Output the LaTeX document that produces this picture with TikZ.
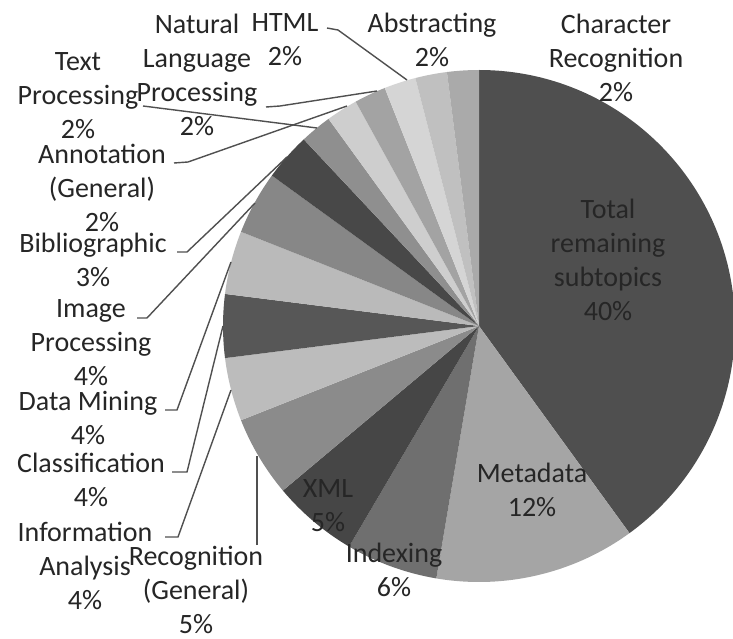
\documentclass[tikz,border=0pt]{standalone}
\usepackage{fontspec}
\setmainfont{Carlito}
\definecolor{txt}{HTML}{262626}
\definecolor{leadc}{HTML}{505050}
\definecolor{sTotal}{HTML}{4F4F4F}
\definecolor{sMeta}{HTML}{A5A5A5}
\definecolor{sIndex}{HTML}{6F6F6F}
\definecolor{sXML}{HTML}{464646}
\definecolor{sRecog}{HTML}{8B8B8B}
\definecolor{sInfo}{HTML}{BCBCBC}
\definecolor{sClass}{HTML}{575757}
\definecolor{sData}{HTML}{BABABA}
\definecolor{sImage}{HTML}{878787}
\definecolor{sBib}{HTML}{484848}
\definecolor{sText}{HTML}{8F8F8F}
\definecolor{sAnnot}{HTML}{CECECE}
\definecolor{sNLP}{HTML}{A3A3A3}
\definecolor{sHTML}{HTML}{D5D5D5}
\definecolor{sAbs}{HTML}{C0C0C0}
\definecolor{sChar}{HTML}{AAAAAA}
\begin{document}
\begin{tikzpicture}[x=1pt,y=-1pt,
  lbl/.style={font=\fontsize{28}{34}\selectfont, text=txt, align=center, inner sep=0pt},
  lead/.style={draw=leadc, line width=1.4pt}]
\useasboundingbox (0,0) rectangle (733,639);
\fill[white] (0,0) rectangle (733,639);
\coordinate (C) at (479,326);
\foreach \a/\b/\c in {0/144/sTotal, 144/189.6/sMeta, 189.6/210.5/sIndex, 210.5/230/sXML,
  230/248.4/sRecog, 248.4/262.8/sInfo, 262.8/277.2/sClass, 277.2/291.6/sData,
  291.6/306/sImage, 306/316.8/sBib, 316.8/324/sText, 324/331.2/sAnnot,
  331.2/338.4/sNLP, 338.4/345.6/sHTML, 345.6/352.8/sAbs, 352.8/360/sChar}{
  \pgfmathsetmacro{\sa}{\a-90}
  \pgfmathsetmacro{\sb}{\b-90}
  \fill[\c] (C) -- ++(\sa:256) arc[start angle=\sa, end angle=\sb, radius=256] -- cycle;
}
% labels
\node[lbl] (total) at (608,260) {Total\\remaining\\subtopics\\40\%};
\node[lbl] (meta) at (532,490) {Metadata\\12\%};
\node[lbl] (index) at (394,570) {Indexing\\6\%};
\node[lbl] (xml) at (328,506) {XML\\5\%};
\node[lbl] (recog) at (196,590) {Recognition\\(General)\\5\%};
\node[lbl] (info) at (85,566) {Information\\Analysis\\4\%};
\node[lbl] (class) at (91,480) {Classification\\4\%};
\node[lbl] (data) at (88,418) {Data Mining\\4\%};
\node[lbl] (image) at (91,343) {Image\\Processing\\4\%};
\node[lbl] (bib) at (93,260) {Bibliographic\\3\%};
\node[lbl] (annot) at (102,188) {Annotation\\(General)\\2\%};
\node[lbl] (text) at (78,96) {Text\\Processing\\2\%};
\node[lbl] (nlp) at (197,75) {Natural\\Language\\Processing\\2\%};
\node[lbl] (html) at (285,40) {HTML\\2\%};
\node[lbl] (abs) at (432,40) {Abstracting\\2\%};
\node[lbl] (char) at (616,58) {Character\\Recognition\\2\%};
% leader line points
\coordinate (h1) at (327,28);  \coordinate (h2) at (338,30);  \coordinate (hR) at (407,80);
\coordinate (n1) at (266,107); \coordinate (n2) at (280,106); \coordinate (nR) at (377,91);
\coordinate (t1) at (143,106); \coordinate (tR) at (317,128);
\coordinate (a1) at (174,163); \coordinate (a2) at (188,162); \coordinate (aR) at (347,106);
\coordinate (b1) at (177,252); \coordinate (b2) at (187,252); \coordinate (bR) at (287,157);
\coordinate (i1) at (137,318); \coordinate (i2) at (147,318); \coordinate (iR) at (255,203);
\coordinate (d1) at (165,410); \coordinate (d2) at (177,410); \coordinate (dR) at (231,262);
\coordinate (c1) at (172,472); \coordinate (c2) at (187,472); \coordinate (cR) at (223,326);
\coordinate (f1) at (165,537); \coordinate (f2) at (178,537); \coordinate (fR) at (231,390);
\coordinate (r1) at (257,545); \coordinate (rR) at (257,456);
\draw[lead] (h1) -- (h2) -- (hR);
\draw[lead] (n1) -- (n2) -- (nR);
\draw[lead] (t1) -- (tR);
\draw[lead] (a1) -- (a2) -- (aR);
\draw[lead] (b1) -- (b2) -- (bR);
\draw[lead] (i1) -- (i2) -- (iR);
\draw[lead] (d1) -- (d2) -- (dR);
\draw[lead] (c1) -- (c2) -- (cR);
\draw[lead] (f1) -- (f2) -- (fR);
\draw[lead] (r1) -- (rR);
\end{tikzpicture}
\end{document}
